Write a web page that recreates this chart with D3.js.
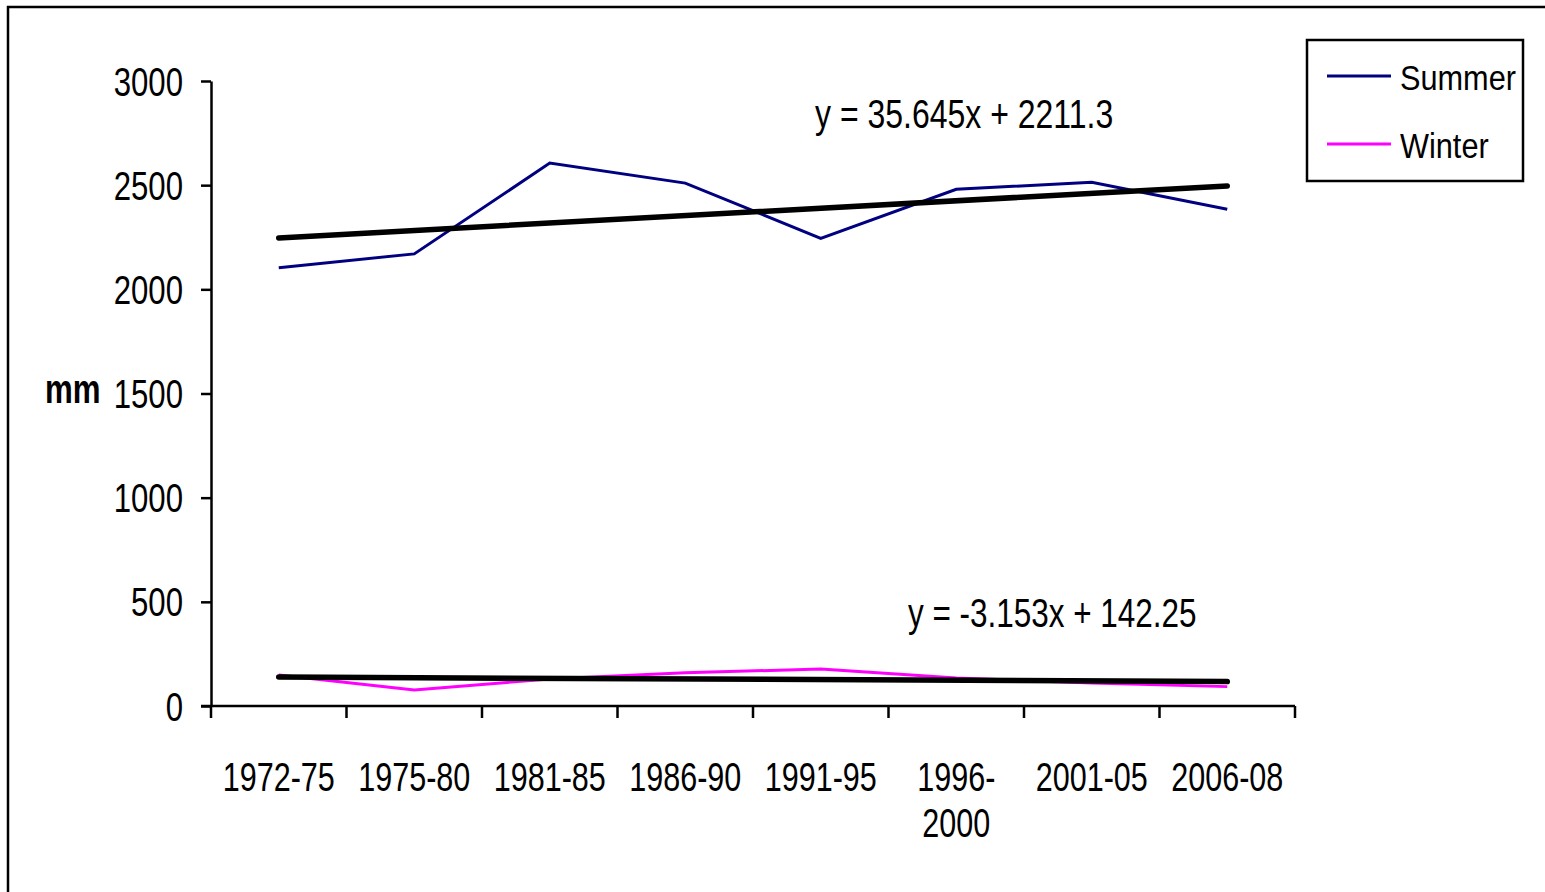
<!DOCTYPE html>
<html>
<head>
<meta charset="utf-8">
<script src="https://cdn.jsdelivr.net/npm/d3@7"></script>
<style>
  body { margin: 0; background: #fff; }
  text { font-family: "Liberation Sans", Arial, sans-serif; fill: #000; }
</style>
</head>
<body>
<div id="chart"></div>
<script>
// data
var periods = ["1972-75", "1975-80", "1981-85", "1986-90", "1991-95", "1996-2000", "2001-05", "2006-08"];
var summer = [2104, 2170, 2606, 2510, 2245, 2480, 2514, 2384];
var winter = [149, 77, 130, 160, 177, 134, 110, 93];
var yTicks = [0, 500, 1000, 1500, 2000, 2500, 3000];
// linear trend lines as printed on the chart
var trendSlope = [35.645, -3.153];
var trendIntercept = [2211.3, 142.25];
var trendLabels = ["y = 35.645x + 2211.3", "y = -3.153x + 142.25"];
var seriesNames = ["Summer", "Winter"];
var seriesColors = ["#000080", "#ff00ff"];

var W = 1545, H = 892;
var svg = d3
  .select("#chart")
  .append("svg")
  .attr("width", W)
  .attr("height", H);

// outer frame
svg
  .append("rect")
  .attr("x", 8)
  .attr("y", 7)
  .attr("width", 1600)
  .attr("height", 1000)
  .attr("fill", "none")
  .attr("stroke", "#000")
  .attr("stroke-width", 2.5);

var x = d3.scaleBand().domain(periods).range([211, 1295]).padding(0);
var y = d3.scaleLinear().domain([0, 3000]).range([706, 81]);
var cx = function (p) {
  return x(p) + x.bandwidth() / 2;
};

// y axis
svg
  .append("g")
  .attr("transform", "translate(211,0)")
  .call(d3.axisLeft(y).tickValues(yTicks).tickSize(10).tickSizeOuter(0).tickFormat(""))
  .call(function (g) {
    g.selectAll("line, path").attr("stroke", "#000").attr("stroke-width", 2.5);
  });

svg
  .selectAll(".ylab")
  .data(yTicks)
  .enter()
  .append("text")
  .attr("class", "ylab")
  .attr("text-anchor", "end")
  .attr("font-size", 41)
  .attr("transform", function (d) {
    return "translate(183," + (y(d) + 14.5) + ") scale(0.76,1)";
  })
  .text(function (d) {
    return d;
  });

// x axis, ticks on the band edges
var xEdges = periods.map(function (p) {
  return x(p);
}).concat([x.range()[1]]);
var xAxis = svg.append("g").attr("transform", "translate(0," + y(0) + ")");
xAxis
  .append("line")
  .attr("x1", 201)
  .attr("x2", x.range()[1])
  .attr("stroke", "#000")
  .attr("stroke-width", 2.5);
xAxis
  .selectAll(".xt")
  .data(xEdges)
  .enter()
  .append("line")
  .attr("x1", function (d) { return d; })
  .attr("x2", function (d) { return d; })
  .attr("y1", 0)
  .attr("y2", 12)
  .attr("stroke", "#000")
  .attr("stroke-width", 2.5);

var xLab = svg
  .selectAll(".xlab")
  .data(periods)
  .enter()
  .append("text")
  .attr("class", "xlab")
  .attr("text-anchor", "middle")
  .attr("font-size", 41)
  .attr("transform", function (d) {
    return "translate(" + cx(d) + ",791) scale(0.745,1)";
  });
xLab.each(function (d) {
  // long label wraps after the hyphen
  var parts = d.length > 7 ? [d.slice(0, 5), d.slice(5)] : [d];
  d3.select(this)
    .selectAll("tspan")
    .data(parts)
    .enter()
    .append("tspan")
    .attr("x", 0)
    .attr("y", function (t, i) { return i * 46; })
    .text(function (t) { return t; });
});

// axis title
svg
  .append("text")
  .attr("font-size", 40)
  .attr("font-weight", "bold")
  .attr("transform", "translate(45,403) scale(0.78,1)")
  .text("mm");

// series lines
var line = d3
  .line()
  .x(function (d, i) { return cx(periods[i]); })
  .y(function (d) { return y(d); });

[summer, winter].forEach(function (s, k) {
  svg
    .append("path")
    .datum(s)
    .attr("d", line)
    .attr("fill", "none")
    .attr("stroke", seriesColors[k])
    .attr("stroke-width", 3);
});

// trend lines over x = 1..8
trendSlope.forEach(function (m, k) {
  var b = trendIntercept[k];
  var n = periods.length;
  svg
    .append("line")
    .attr("x1", cx(periods[0]))
    .attr("y1", y(m * 1 + b))
    .attr("x2", cx(periods[n - 1]))
    .attr("y2", y(m * n + b))
    .attr("stroke", "#000")
    .attr("stroke-width", 5.5)
    .attr("stroke-linecap", "round");
});

// equation labels
var eqPos = [[815, 128], [908, 627]];
var eqScale = [0.79, 0.777];
trendLabels.forEach(function (t, k) {
  svg
    .append("text")
    .attr("font-size", 40.5)
    .attr("transform", "translate(" + eqPos[k][0] + "," + eqPos[k][1] + ") scale(" + eqScale[k] + ",1)")
    .text(t);
});

// legend
var legend = svg.append("g").attr("transform", "translate(1307,40)");
legend
  .append("rect")
  .attr("width", 216)
  .attr("height", 141)
  .attr("fill", "#fff")
  .attr("stroke", "#000")
  .attr("stroke-width", 2.5);
seriesNames.forEach(function (name, k) {
  var ly = 36 + k * 68;
  legend
    .append("line")
    .attr("x1", 20)
    .attr("x2", 84)
    .attr("y1", ly)
    .attr("y2", ly)
    .attr("stroke", seriesColors[k])
    .attr("stroke-width", 3);
  legend
    .append("text")
    .attr("font-size", 34.5)
    .attr("transform", "translate(93," + (ly + 14) + ") scale(0.89,1)")
    .text(name);
});
</script>
</body>
</html>
